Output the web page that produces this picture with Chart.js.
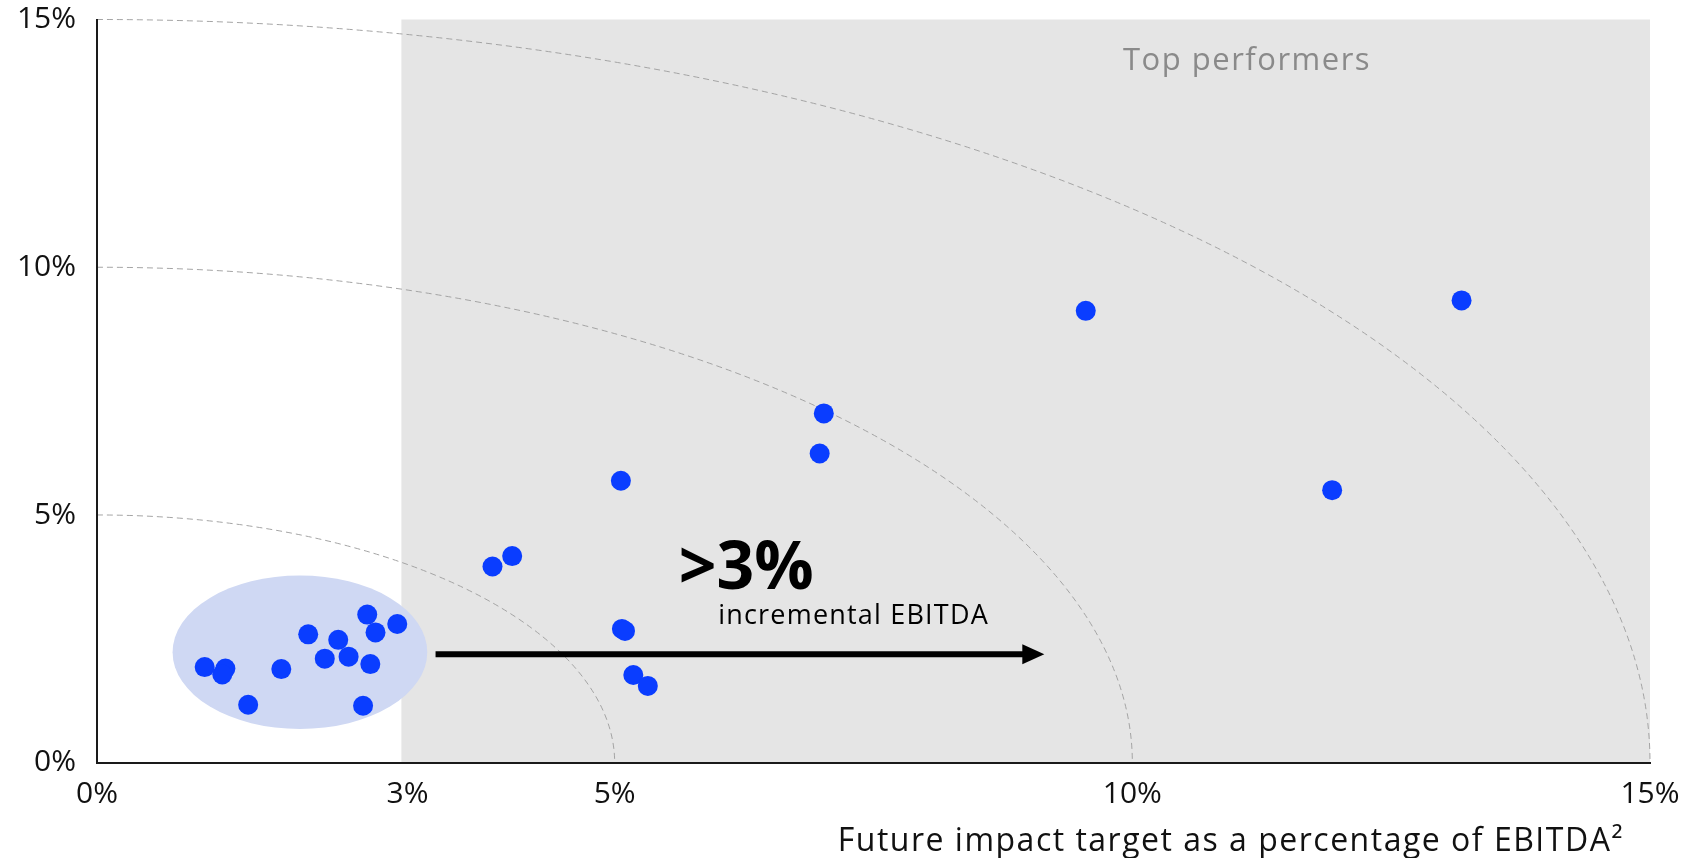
<!DOCTYPE html>
<html>
<head>
<meta charset="utf-8">
<script src="https://cdn.jsdelivr.net/npm/chart.js@4/dist/chart.umd.min.js"></script>
<style>
  html, body { margin: 0; padding: 0; background: #fff; }
  #wrap { width: 1683px; height: 858px; position: relative; }
</style>
</head>
<body>
<div id="wrap"><canvas id="impactChart"></canvas></div>
<script>
// impact today vs. future target, both as % of EBITDA
const xVals = [1.04, 1.24, 1.21, 1.46, 1.78, 2.04, 2.20, 2.33, 2.43, 2.61, 2.69, 2.90, 2.64, 2.57,
               3.82, 4.01, 5.06, 5.07, 5.10, 5.18, 5.32, 6.98, 7.02, 9.55, 11.93, 13.18];
const yVals = [1.93, 1.90, 1.78, 1.17, 1.89, 2.59, 2.10, 2.48, 2.14, 2.99, 2.63, 2.80, 1.99, 1.15,
               3.96, 4.17, 5.69, 2.70, 2.66, 1.77, 1.55, 6.24, 7.05, 9.12, 5.50, 9.33];
const xTicks = [0, 3, 5, 10, 15];
const yTicks = [0, 5, 10, 15];
const arcRadii = [5, 10, 15];
const topThreshold = 2.94;

const FONT = '"Open Sans", "Noto Sans", sans-serif';

const points = xVals.map((x, i) => ({ x: x, y: yVals[i] }));

function spacedText(ctx, text, px, py, spacing) {
  ctx.letterSpacing = spacing + 'px';
  ctx.fillText(text, px, py);
  ctx.letterSpacing = '0px';
}

const decor = {
  id: 'decor',
  beforeDraw(chart) {
    const { ctx, chartArea: a, scales: { x, y } } = chart;
    const x0 = x.getPixelForValue(0), y0 = y.getPixelForValue(0);
    ctx.save();
    // top performers zone
    ctx.fillStyle = '#e5e5e5';
    const sx = x.getPixelForValue(topThreshold);
    ctx.fillRect(sx, a.top, a.right - sx, a.bottom - a.top);

    // iso-impact arcs
    ctx.strokeStyle = '#a4a4a4';
    ctx.lineWidth = 1;
    ctx.setLineDash([6, 4]);
    arcRadii.forEach(r => {
      const rx = x.getPixelForValue(r) - x0;
      const ry = y0 - y.getPixelForValue(r);
      ctx.beginPath();
      ctx.ellipse(x0, y0, rx, ry, 0, -Math.PI / 2, 0);
      ctx.stroke();
    });
    ctx.setLineDash([]);

    ctx.fillStyle = '#8a8a8a';
    ctx.font = '31px ' + FONT;
    ctx.textBaseline = 'middle';
    spacedText(ctx, 'Top performers', x.getPixelForValue(9.91), y.getPixelForValue(14.15), 1.5);
    ctx.restore();
  },
  beforeDatasetsDraw(chart) {
    const { ctx, scales: { x, y } } = chart;
    // cluster of current players
    const cx = x.getPixelForValue(1.96), cy = y.getPixelForValue(2.23);
    const rx = x.getPixelForValue(1.96 + 1.23) - cx;
    const ry = cy - y.getPixelForValue(2.23 + 1.55);
    ctx.save();
    ctx.fillStyle = '#cfd8f3';
    ctx.beginPath();
    ctx.ellipse(cx, cy, rx, ry, 0, 0, Math.PI * 2);
    ctx.fill();
    ctx.restore();
  },
  afterDatasetsDraw(chart) {
    const { ctx, chartArea: a, scales: { x, y } } = chart;
    ctx.save();
    // arrow
    const ax1 = x.getPixelForValue(3.27), ax2 = x.getPixelForValue(9.15), ay = y.getPixelForValue(2.19);
    ctx.strokeStyle = '#000';
    ctx.fillStyle = '#000';
    ctx.lineWidth = 6;
    ctx.beginPath();
    ctx.moveTo(ax1, ay);
    ctx.lineTo(ax2 - 20, ay);
    ctx.stroke();
    ctx.beginPath();
    ctx.moveTo(ax2, ay);
    ctx.lineTo(ax2 - 22, ay - 10);
    ctx.lineTo(ax2 - 22, ay + 10);
    ctx.closePath();
    ctx.fill();

    ctx.textBaseline = 'alphabetic';
    ctx.font = 'bold 66px ' + FONT;
    ctx.fillText('>3%', x.getPixelForValue(5.62), y.getPixelForValue(3.5));
    ctx.font = '27px ' + FONT;
    spacedText(ctx, 'incremental EBITDA', x.getPixelForValue(6.0), y.getPixelForValue(2.79), 1.2);

    // x-axis title
    ctx.fillStyle = '#111';
    ctx.font = '32px ' + FONT;
    ctx.textAlign = 'right';
    spacedText(ctx, 'Future impact target as a percentage of EBITDA²', a.right - 26, 851, 1.5);
    ctx.restore();
  }
};

new Chart(document.getElementById('impactChart'), {
  type: 'scatter',
  data: {
    datasets: [{
      data: points,
      backgroundColor: '#0a3dff',
      borderWidth: 0,
      pointRadius: 10,
      pointHoverRadius: 10
    }]
  },
  options: {
    responsive: true,
    maintainAspectRatio: false,
    animation: false,
    layout: { padding: { top: 19.5, right: 33, left: 0, bottom: 0 } },
    plugins: { legend: { display: false }, tooltip: { enabled: false } },
    scales: {
      x: {
        type: 'linear', min: 0, max: 15,
        afterBuildTicks: axis => { axis.ticks = xTicks.map(v => ({ value: v })); },
        afterFit: scale => {
          scale.height = 95.3;
          scale.paddingLeft = 0;
          scale.paddingRight = 0;
        },
        grid: { display: false, drawTicks: false },
        border: { color: '#1a1a1a', width: 2 },
        ticks: {
          padding: 14, color: '#111', font: { family: FONT, size: 30 },
          maxRotation: 0, autoSkip: false,
          callback: v => v + '%'
        }
      },
      y: {
        type: 'linear', min: 0, max: 15,
        afterBuildTicks: axis => { axis.ticks = yTicks.map(v => ({ value: v })); },
        afterFit: scale => {
          scale.width = 97;
          scale.paddingTop = 0;
          scale.paddingBottom = 0;
        },
        grid: { display: false, drawTicks: false },
        border: { color: '#1a1a1a', width: 2 },
        ticks: {
          padding: 21, color: '#111', font: { family: FONT, size: 30 },
          autoSkip: false,
          callback: v => v + '%'
        }
      }
    }
  },
  plugins: [decor]
});
</script>
</body>
</html>
